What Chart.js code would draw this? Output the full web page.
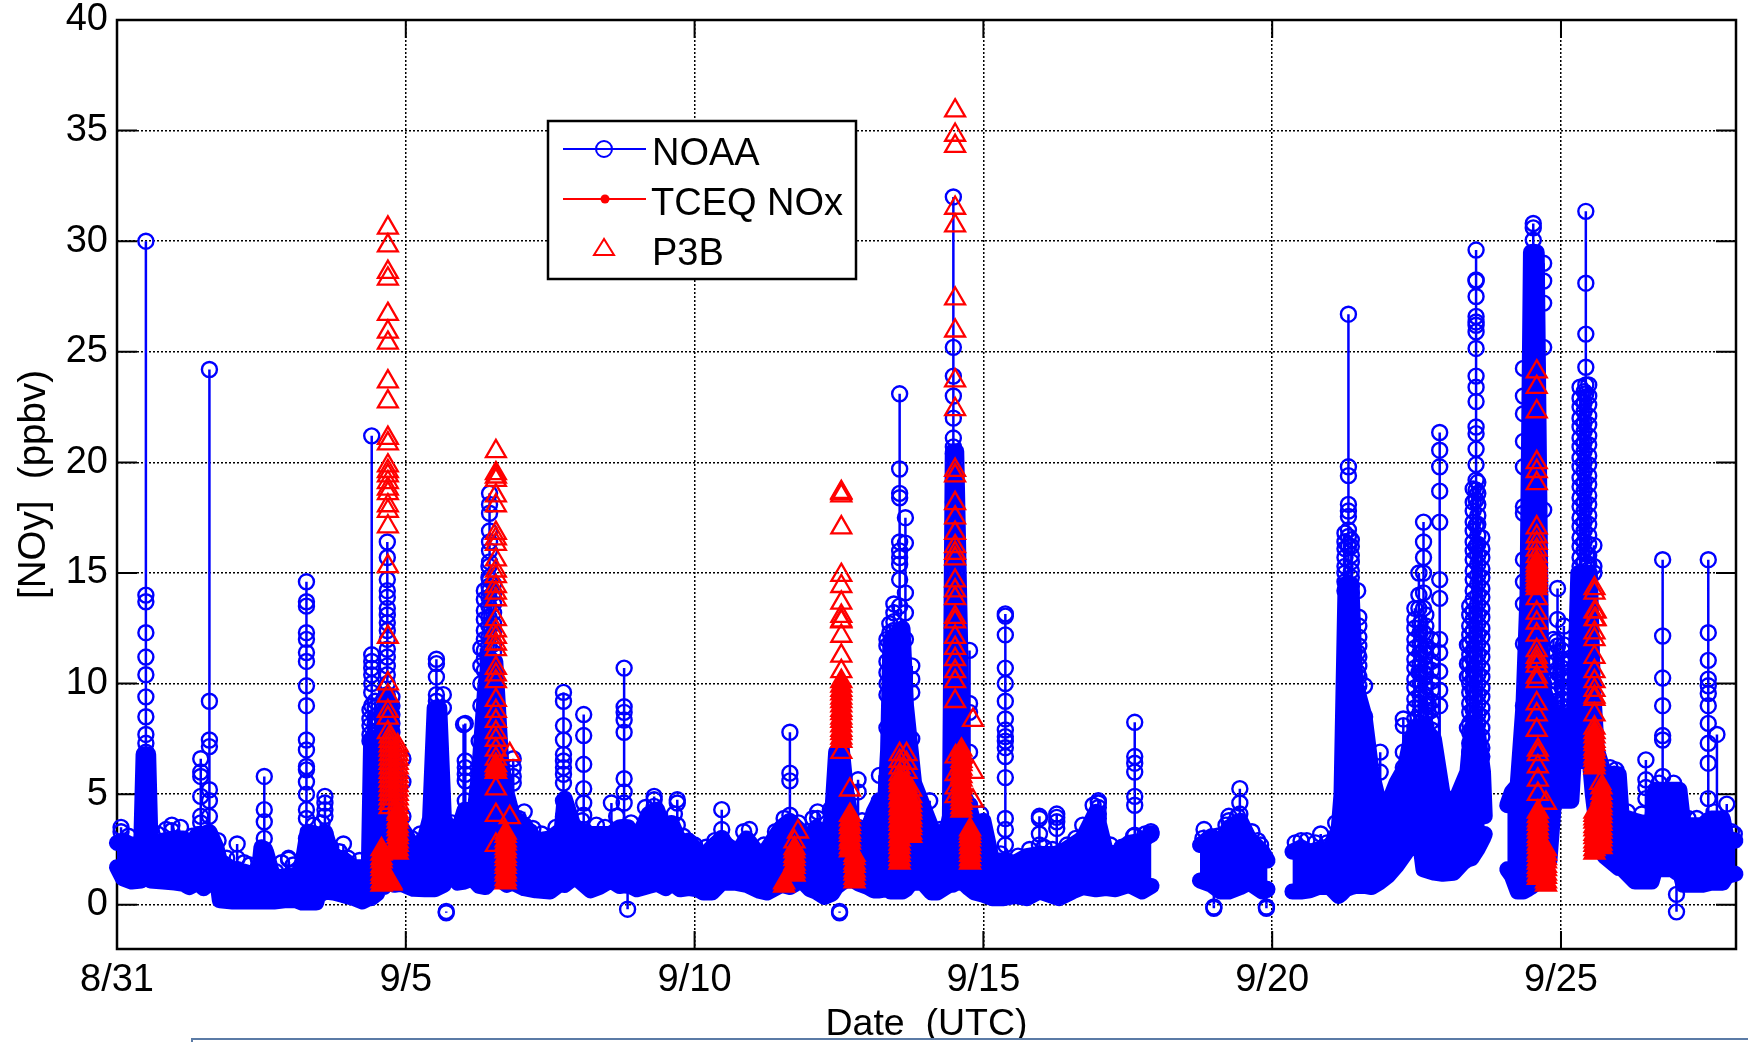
<!DOCTYPE html>
<html><head><meta charset="utf-8">
<script src="https://cdn.jsdelivr.net/npm/chart.js@4"></script>
<style>
html,body{margin:0;padding:0;background:#fff;overflow:hidden;width:1748px;height:1042px}
#c{position:absolute;left:0;top:0}
#strip{position:absolute;left:191px;top:1038px;width:1570px;height:30px;border:2px solid #5b7ba6;background:#fff;box-sizing:border-box}
</style></head><body>
<canvas id="c" width="1748" height="1042"></canvas>
<div id="strip"></div>
<script>
// ---- axis ticks ----
const xTickDays = [0,5,10,15,20,25];
const xTickLabels = ['8/31','9/5','9/10','9/15','9/20','9/25'];
const yTickValues = [0,5,10,15,20,25,30,35,40];
const seriesNames = ['NOAA','TCEQ NOx','P3B'];

// ---- NOAA dense core: lower and upper reach of the record (day since 8/31, ppbv) ----
const bandDays = [0,.1,.25,.42,.46,.54,.58,.8,1,1.15,1.25,1.4,1.5,1.6,1.72,1.78,2,2.2,2.45,2.5,2.58,2.72,2.9,3.1,3.2,3.3,3.45,3.48,3.6,3.75,3.9,4.1,4.25,4.36,4.4,4.5,4.55,4.62,4.66,4.74,4.8,4.92,5,5.13,5.33,5.42,5.5,5.58,5.66,5.72,5.82,5.9,6.02,6.15,6.27,6.38,6.45,6.55,6.65,6.75,6.85,7.05,7.25,7.5,7.7,7.75,7.9,8,8.2,8.35,8.55,8.7,8.85,9,9.2,9.35,9.5,9.6,9.75,9.9,10.05,10.15,10.3,10.47,10.7,10.9,11.1,11.25,11.5,11.65,11.85,12,12.1,12.25,12.38,12.45,12.55,12.62,12.75,12.85,13,13.1,13.2,13.3,13.35,13.39,13.6,13.66,13.72,13.8,13.95,14.1,14.2,14.35,14.42,14.47,14.53,14.65,14.75,14.85,15,15.15,15.35,15.55,15.75,15.97,16.31,16.54,16.72,16.95,17.12,17.29,17.52,17.75,17.91,18.3,18.75,18.95,19.1,19.25,19.45,19.6,19.83,19.92,20.1,20.35,20.5,20.65,20.8,21,21.15,21.2,21.27,21.37,21.44,21.6,21.72,21.85,22,22.15,22.3,22.4,22.5,22.55,22.62,22.8,22.95,23.14,23.3,23.38,23.45,23.55,23.65,23.68,23.9,24.07,24.15,24.25,24.35,24.42,24.48,24.58,24.66,24.8,24.88,25.18,25.22,25.3,25.5,25.55,25.62,25.75,26,26.05,26.28,26.57,26.63,27.05,27.12,27.44,27.6,27.8,27.87,28.02];
const bandLow = [1.7,1.2,1.05,1.1,1.2,1.2,1.1,1.05,1,.95,.8,1,.75,1,1.4,.2,.15,.15,.15,.15,.15,.15,.2,.2,.1,.1,.1,.4,.6,.55,.45,.3,.15,.3,.3,.5,.8,.8,1,1,.9,.95,.86,.72,.7,.7,.7,.8,.9,1.45,1.45,1,1.05,1.2,.85,.8,1,1.2,1.1,.9,1,.75,.65,.6,1,.9,1.2,1.1,.65,.8,1.1,.85,.9,.7,.85,.95,.75,1,.7,.75,.7,.55,.55,1,1,.9,.65,.55,.9,.8,1.1,.7,.6,.35,.5,.8,1,1.1,1.1,.95,.8,.65,.65,.7,.7,.6,.6,.7,.9,1,1,.55,.55,.8,.9,.9,1,1,.75,.55,.45,.3,.3,.4,.3,.6,.3,.6,.8,.7,.75,.7,.9,.6,.85,null,1.1,.9,.6,.6,.8,1,.6,.7,null,.6,.6,.65,.8,.8,.4,.5,.7,.8,.85,.85,.8,1,1.3,1.75,2.3,2.7,2.8,3,1.6,1.45,1.4,1.45,1.9,2.05,2.1,2.5,3,3.2,null,1.6,1.3,.6,.6,.7,.8,1,1.2,2,4.7,4.7,6.5,6.5,6.5,5,3.5,2.2,1.66,1.66,1.05,1.05,1.6,1.6,.9,.9,1,1,1.3,1.4];
const bandHigh = [2.8,2.9,2.7,2.8,6.8,6.8,2.8,2.9,3,3,2.6,3.2,3.2,3.3,2.6,2,1.6,1.5,1.3,2.6,2.4,1.1,1.2,1.3,1.7,3.3,3.2,3.1,3.3,2,2.1,1.7,1.7,1.7,7.5,7.5,5,5,9.5,9,4.5,3.5,3.2,2.55,3,3.9,8.9,8.9,3.9,3.6,3.4,3.3,4.3,3.2,6,10,11,11,6.5,5,4,3.6,2.9,3,3.4,4.8,3.6,3.4,3.2,3.2,3.2,3.5,3.5,2.9,4.1,4.3,3.2,3.7,2.8,2.9,2.4,2.2,2.6,3,2.2,3,2.3,2.5,3.5,3.8,3.3,3,3.5,2.7,4,6.9,7,5.2,3.3,3.5,3.3,4.2,4.7,4.7,7,12,12.5,9,7.5,5.5,4.5,3.5,3.1,3.1,4,20.5,20.5,5,4.5,3.5,3.8,2,2,1.9,2.2,2.3,2.3,2.7,3,4.2,2.4,2.3,2.8,2.9,3.2,null,2.7,3.1,2.8,3.5,3.8,3,2.4,2,null,2.4,2.6,2.4,2.5,2.5,3.4,5,14.5,14.5,10,8.5,6,4.6,4.5,5.5,6.2,7.5,8,8,8,7.5,5,4.5,5.5,6,8,8,6,4,null,4.5,5.1,5.4,9,14,29.5,29.5,10,9,8.5,8.5,8,15,15,10,7,5.9,5.9,4,3.8,3.6,5.2,5.2,3.6,3.6,3.9,3.9,3,2.9];

// ---- NOAA spikes: each day holds a stack of readings joined by a stem ----
const noaaSpikeDays = [.07,.5,.95,1.45,1.6,2.08,2.55,2.97,3.28,3.6,3.92,4.41,4.68,4.95,5.53,5.65,5.7,6.03,6.0,6.27,6.45,6.3,6.86,7.05,7.2,7.73,8.08,8.56,8.78,8.84,9.3,9.7,10.47,11.65,12.13,12.51,12.83,13.2,13.33,13.55,13.65,13.76,14.07,14.48,14.76,15.38,15.97,16.27,16.72,16.99,17.62,17.9,18.82,18.99,19.25,19.44,19.8,19.9,20.5,20.84,21.32,21.48,21.6,21.87,22.27,22.54,22.62,22.7,22.9,23.38,23.5,23.53,24.35,24.52,24.7,24.87,24.94,25.05,25.43,25.57,25.92,26.47,26.76,27,27.55,27.7,27.87];
const noaaSpikeValues = [
[3.5,3.3,2.8],
[30,14,13.7,12.3,11.2,10.4,9.4,8.5,7.7,7.3,6.9,3],
[3.6,3.35,2.9],
[6.6,6,5.8,4.9,4,3.7,3],
[24.2,9.2,7.45,7.15,5.2,4.7,4,3],
[2.75,2.1,1.6],
[5.8,4.3,3.75,3,2.5],
[2.1,2.05,1.3],
[14.6,13.7,13.5,12.3,12,11.4,11,9.9,9,7.45,7,6.25,6.1,5.55,5,4.3,3.9,3],
[4.9,4.6,4.3,4,3.2],
[2.75,2],
[21.2,11.3,11,10.7,10.4,10,9.6,9,7.5],
[16.4,15.7,14.7,14.2,13.9,13.4,13.1,12.75,12.4,12,11.55,11.2,10.8,10.4,10,9.5],
[6.6,5.56,4,3.3],
[11.1,10.9,10.3,9.5,9.2,8.9],
[9.5,8.9],
[-.3,-.36],
[8.2,6.5,6.2,5.9,5.6,4.7,4.2],
[8.15,3.3],
[7.4,6],
[18.6,18.1,17.7,16.9,16.4,16,15.5,14.7,14.2,11],
[11.6,10.8,10,9],
[6.6,6.2,5.8,5.5,4],
[4.2,3.6],
[3.45,2.9],
[9.6,9.2,8.1,7.45,6.8,6.5,6.2,5.9,5.5,4.7,4],
[8.6,7.65,6.35,5.25,4.6,4.05,3.4],
[4.6,3.2],
[10.7,8.95,8.7,8.35,7.8,5.7,5.1,4.6,3.5],
[-.2,.9],
[4.9,4.75,4.45,4.2],
[4.75,4.6,3.6],
[4.3,3.4,3],
[7.8,5.95,5.6,4.05,3.5],
[4.2,3.9,3.4],
[-.3,-.36],
[5.65,5.1,3.5],
[5.85,4.7],
[12,11.7,11,10.5,10,9.5,8],
[23.1,19.7,18.6,18.4,16.4,16,15.7,15.4,14.7,13.5],
[17.5,16.35,14.1,13.2,12],
[10.8,10.2,9.6,7.5],
[4.7,3.5],
[32,25.2,23.9,23,22,21.1,20.7,20.4,18.2,17.3,16],
[11.5,9.1,8.7,6.9,4.5],
[13.15,13.05,12.2,10.7,10,9.2,8.4,7.9,7.6,7.4,7.1,6.7,5.75,3.9,3.4,2.7,2],
[4,3.9,3.2,2.7,2.3],
[4.1,3.95,3.75,3.45,2.3],
[3.6,3],
[4.7,4.6,4.4,4.1,3.9],
[8.25,6.7,6.4,6,4.9,4.5,3.15,2.6],
[3.3,3.2],
[3.4,2.7],
[-.1,-.16,.9],
[4,3.8,3.4],
[5.25,4.6,4.1,3.7],
[2.7,2.4],
[-.1,-.16,.7],
[2.9,2.5],
[3.2,2.5],
[26.7,19.8,19.4,18.1,17.8,17.55,16.95,16.65,16.2,14.5],
[14.2,11.4,10.5,9.5],
[9.9,8.5],
[6.9,6,4.6],
[8.4,8.1,6.9,6.2],
[15,14,13.4,10.5,8],
[17.3,16.4,15.7,15,14.1,13.4,12.3,11.5,10.5,8],
[9.1,8.7,6],
[21.35,20.55,19.8,18.7,17.3,14.7,13.85,12,11.4,10.55,9.7,9,5],
[11.75,10.9,10.3,8],
[8.2,7.4,6.4,5.6,4.5],
[29.6,28.25,28.2,27.5,26.6,26.35,26.2,25.9,25.15,23.9,23.4,22.75,21.6,21.3,20.6,19.9,19.2,18.75,18.3,17.15,16.2,8],
[24.25,23,22.2,20.95,19.8,18,17.7,15.6,14.6,13.6,11.8,9],
[30.8,30.6,30.05,29.5],
[29,28.2,27.2,25.2,17.85,10],
[12,10.15],
[14.3,12.9,11.7,10.5,8.5],
[12.6,11.75,10.9,8.5],
[31.35,28.1,25.8,24.3,23.5,23.1,12],
[16.25,15.3,15,10],
[5.9,5.5],
[6.55,5.65,5.3,4.8,3.7],
[15.6,12.15,10.25,9,7.65,7.45,5.8,5],
[.47,-.32,1.5],
[15.6,12.3,11.05,10.2,9.9,9.55,9,8.2,7.3,6.4,4.8,3.8],
[7.7,3.8],
[4.55,3]
];

// ---- NOAA readings packed inside the tall columns ----
const noaaPackDays = [4.38,4.47,4.62,4.76,6.36,6.44,6.52,13.38,13.45,21.26,21.37,21.5,22.47,22.56,22.66,22.76,23.42,23.48,23.56,23.63,24.92,25.02,25.12,25.33,25.4,25.48];
const noaaPackValues = [
[8.8,8.4,8.1,7.7,7.4],
[9.2,8.9,8.5,8.2,7.8,7.5],
[9.3,8.9,8.5,8.1,7.8,7.4,7],
[9.4,9,8.6,8.2,7.8],
[14.2,13.8,13.3,12.9,12.4,12,11.5,11.1,10.6],
[15.3,14.8,14.4,13.9,13.5,13,12.6,12.1,11.7,11.2],
[14.5,14.1,13.6,13.2,12.7,12.3,11.8,11.4,10.9],
[12.7,12.3],
[13.6,13.2,12.8,12.4],
[16.8,16.4,16.1,15.7,15.3,15,14.6,14.2],
[16.5,16.2,15.8,15.5,15.1,14.8,14.4,14.1],
[13,12.6,12.1,11.7,11.2,10.8,10.3,9.9],
[13.4,12.9,12.5,12,11.6,11.1,10.7,10.2,9.8,9.3,8.9,8.4,8],
[12.7,12.3,11.8,11.4,10.9,10.5,10,9.5,9.1,8.7,8.2],
[13.1,12.6,12.2,11.7,11.3,10.8,10.4,9.9,9.4,9,8.6,8.1],
[12,11.5,11,10.6,10.1,9.7,9.2,8.8,8.3,7.9],
[13.5,13.1,12.6,12.2,11.8,11.3,10.9,10.4,10,9.6,9.1,8.7,8.2,7.8,7.3,6.9,6.4],
[18.8,18.2,17.8,17.3,16.9,16.4,16,15.6,15.1,14.7,14.2,13.8,13.3,12.9,12.4,12,11.5,11.1,10.6,10.2,9.7,9.3,8.8,8.4],
[19.1,18.6,18.1,17.6,17.2,16.7,16.3,15.8,15.4,14.9,14.5,14,13.6,13.1,12.7,12.2,11.8,11.3,10.9,10.4,10,9.5,9.1,8.6,8.2],
[16.6,16.1,15.7,15.2,14.8,14.3,13.9,13.4,13,12.5,12.1,11.6,11.2,10.7,10.3,9.8,9.4,8.9,8.5,8,7.6,7.1,6.7],
[11.9,11.4,11,10.6,10.1,9.7,9.2,8.8],
[11.5,11.1,10.7,10.2,9.8,9.3,8.9],
[11,10.5,10.1,9.6,9.2,8.7],
[23.4,22.9,22.5,22,21.6,21.1,20.7,20.2,19.8,19.3,18.9,18.4,18,17.5,17.1,16.6,16.2,15.7,15.3],
[23.2,22.7,22.3,21.8,21.4,20.9,20.5,20,19.6,19.1,18.7,18.2,17.8,17.3,16.9,16.4,16,15.5],
[23.5,23,22.6,22.1,21.7,21.2,20.8,20.3,19.9,19.4,19,18.5,18.1,17.6,17.2,16.7,16.3,15.8,15.4]
];

// ---- NOAA readings scattered just above the dense core ----
const noaaFringeDays = [.2,.7,.85,1.1,1.3,1.75,1.9,2.2,2.3,2.75,2.85,3.05,3.4,3.55,3.7,3.85,4,4.2,4.85,5.1,5.25,5.8,6.15,6.95,7.15,7.35,7.6,8.05,8.3,8.45,8.65,8.9,9.05,9.15,9.45,9.65,9.8,10,10.2,10.35,10.6,10.85,10.95,11.2,11.4,11.55,11.8,11.95,12.05,12.2,12.35,12.9,13.05,14,14.25,14.35,14.95,15.1,15.3,15.6,15.8,16.05,16.2,16.45,16.6,16.8,16.9,17.2,17.4,17.6,17.8,18.8,19.05,19.2,19.4,19.65,19.75,20.4,20.6,20.75,20.95,21.1,25.85,25.95,26.15,26.4,26.7,26.95,27.2,27.35,27.65,27.95,28];
const noaaFringeValues = [3.1,3.2,3.4,3.5,3.1,2.9,2.1,1.9,1.8,1.5,1.9,1.8,3.6,3.7,2.6,2.4,2.1,2,3.9,3,3.2,3.7,3.5,3.9,3.3,3.2,3.5,3.8,3.6,3.5,4,3.7,3.3,4.4,3.6,4.1,3.1,2.7,2.6,2.9,2.6,3.3,3.4,2.7,3.3,3.9,3.7,3.3,3.9,3,4.3,3.8,3.7,4,3.4,3.4,4.1,2.4,2.3,2.2,2.5,2.6,2.5,2.7,3,3.3,4.5,2.7,2.6,3.1,3.2,3,3.1,3.6,4,3.3,2.9,2.8,2.9,2.8,2.8,3.7,6.2,6.1,4.2,4.1,5.5,5.5,3.9,3.9,4.2,3.3,3.2];

// ---- TCEQ NOx: listed in the key, no readings visible above the other series ----
const tceqDays = [];
const tceqValues = [];

// ---- P3B open triangles ----
const p3bDays = [4.69,4.72,4.86,6.56,6.8,11.73,11.79,12.54,12.69,13.55,13.67,13.75,14.51,14.52,14.82,24.58,24.6,24.74,25.58,25.68,25.6];
const p3bValues = [
[30.6,29.8,28.6,28.3,26.7,25.9,25.4,23.65,22.75,21.1,20.85,19.85,19.6,19.4,19.1,18.8,18.6,18.05,17.8,17.1,15.3,12.1,10,9.45,8.75,8.45,7.8],
[7.6,7.4,7.2,7,6.8,6.6,6.4,6.2,6,5.8,5.6,5.4,5.2,5,4.8,4.6,4.4],
[7.2,7,6.8,6.6,6.4,6.2,6,5.8,5.6,5.4,5.2,5,4.8,4.6,4.4,4.2],
[20.5,19.5,19.35,19.2,18.5,18.05,16.8,16.55,16.3,15.6,15.1,14.85,14.4,14.1,13.8,12.9,12.4,12.1,11.8,11.55,10.7,10.4,10.1,9.25,8.75,8.3,7.8,7.45,7,6.6,6.3,6,5.25,4.05,2.7],
[6.8,3.95],
[2.85],
[3.3],
[18.65,18.6,18.5,17.05,14.9,14.4,13.65,13.05,12.85,12.8,12.15,11.25,10.55,6.9],
[5.2],
[6.8,6.5,6.2,5.9],
[6.8,6.4,6],
[5.2,4.9],
[35.9,34.8,34.3,31.5,30.7,27.4,25.95,23.7,22.4,19.65,19.4,18.15,17.5,16.8,16.2,15.9,15.65,14.65,14.2,13.85,13,12.8,12.1,11.6,11.1,10.55,10.1,9.2],
[6.7,5.9,5.3,4.9],
[8.35,6,4.7],
[24.1,23.4,22.3,20,19.6,19.05,17.05,16.65,16.35,16.05,15.75,13.85,13.2,12.75,12.2,11.5,11.2,11,10.8,10.3,10.1,9.1,8.6,7.9],
[7,6.8,6.25,5.65,5],
[4.6],
[14.3,14.1,13.25,12.9,12.3,12,11.2,10.55,10.1,9.7,9.4,9.3,8.6,8],
[5.5],
[13.25,12.9]
];

// ---- P3B stacks so dense that they merge into solid red ----
const p3bDenseDays = [4.58,4.75,4.86,6.56,6.73,11.55,11.73,12.54,12.69,12.77,13.55,13.67,13.75,14.62,14.77,24.58,24.6,24.74,25.58,25.7];
const p3bDenseValues = [
[.9,1.05,1.25,1.4,1.6,1.75,1.95,2.1,2.3,2.5],
[1,.95],
[2.35,2.5,2.7,2.85,3.05,3.2,3.4,3.55,3.75,3.9,4.1],
[6,6.15,6.3],
[1,1.15,1.35,1.5,1.7,1.85,2.05,2.2,2.4,2.55,2.75,2.9,3.1,3.25],
[.85,1],
[1.35,1.5,1.7,1.85,2.05,2.2,2.4,2.55],
[7.4,7.55,7.75,7.9,8.1,8.3,8.45,8.65,8.8,9,9.2,9.35,9.55,9.7,9.9,10.1],
[2.45,2.6,2.8,2.95,3.15,3.3,3.5,3.65,3.85,4.05],
[1.05,1.2,1.4,1.55,1.75,1.9,2.1,2.25],
[1.9,2.05,2.25,2.4,2.6,2.75,2.95,3.1,3.3,3.45,3.65,3.8,4,4.15,4.35,4.5,4.7,4.85,5.05,5.2,5.4,5.55,5.7],
[3.1,3.25,3.45,3.6,3.8,3.95,4.15,4.3,4.5,4.65,4.85,5,5.2,5.35,5.5],
[3.1,3.25,3.45,3.6,3.8,3.95,4.15,4.3,4.5,4.7],
[4.25,4.4,4.6,4.75,4.95,5.1,5.3,5.45,5.65,5.8,6,6.15,6.35,6.5,6.7,6.85,7],
[1.9,2.05,2.25,2.4,2.6,2.75,2.95,3.1,3.25,3.4],
[15.5,15.35,15.2,15.05,14.9,14.75,14.6,14.45,14.3],
[1.2,1.35,1.55,1.7,1.9,2.05,2.25,2.4,2.6,2.75,2.95,3.1,3.3,3.45,3.65,3.8,4,4.2],
[.9,1.05,1.25,1.4,1.6,1.75,1.95,2.1,2.3,2.5],
[2.35,2.5,2.7,2.85,3.05,3.2,3.4,3.55,3.75,3.9,4.05,4.2,6.2,6.35,6.55,6.7,6.9,7.05,7.25,7.4,7.6,7.8],
[2.6,2.75,2.95,3.1,3.3,3.45,3.65,3.8,4,4.15,4.35,4.5,4.7,4.85,5.05,5.3]
];

// ---- building the plotted points from the lists above ----
function stacks(days, values){
  const pts = [];
  days.forEach((d,i)=>{
    values[i].forEach(v=>pts.push({x:d,y:v}));
    pts.push({x:d,y:null});
  });
  return pts;
}
const toPts = (days,vals)=>days.map((d,i)=>({x:d,y:vals[i]}));

const BLUE='#0000ff', RED='#ff0000', FONT='"Liberation Sans", Arial, sans-serif';

const boxPlugin = {
  id:'box',
  beforeDatasetsDraw(chart){
    const {ctx,chartArea:a,scales:{x,y}} = chart;
    ctx.save();
    ctx.strokeStyle='#000'; ctx.lineWidth=2;
    ctx.beginPath();
    xTickDays.forEach(d=>{const p=x.getPixelForValue(d);
      ctx.moveTo(p,a.bottom);ctx.lineTo(p,a.bottom-18);
      ctx.moveTo(p,a.top);ctx.lineTo(p,a.top+18);});
    yTickValues.forEach(v=>{const p=y.getPixelForValue(v);
      ctx.moveTo(a.left,p);ctx.lineTo(a.left+20,p);
      ctx.moveTo(a.right,p);ctx.lineTo(a.right-20,p);});
    ctx.stroke();
    ctx.lineWidth=2.5;
    ctx.strokeRect(a.left,a.top,a.right-a.left,a.bottom-a.top);
    ctx.restore();
  },
  afterDatasetsDraw(chart){
    const {ctx} = chart;
    const L=548,T=121,R=856,B=279;
    ctx.save();
    ctx.fillStyle='#fff';ctx.fillRect(L,T,R-L,B-T);
    ctx.strokeStyle='#000';ctx.lineWidth=2.5;ctx.strokeRect(L,T,R-L,B-T);
    const rows=[149,199,248];
    ctx.lineWidth=2;
    ctx.strokeStyle=BLUE;
    ctx.beginPath();ctx.moveTo(563,rows[0]);ctx.lineTo(646,rows[0]);ctx.stroke();
    ctx.beginPath();ctx.arc(604,rows[0],8,0,Math.PI*2);ctx.stroke();
    ctx.strokeStyle=RED;ctx.fillStyle=RED;
    ctx.beginPath();ctx.moveTo(563,rows[1]);ctx.lineTo(646,rows[1]);ctx.stroke();
    ctx.beginPath();ctx.arc(605,rows[1],4.5,0,Math.PI*2);ctx.fill();
    ctx.beginPath();ctx.moveTo(604,239);ctx.lineTo(594,255);ctx.lineTo(614,255);ctx.closePath();ctx.stroke();
    ctx.fillStyle='#000';ctx.font='38px '+FONT;ctx.textAlign='left';ctx.textBaseline='alphabetic';
    ctx.fillText(seriesNames[0],652,165);
    ctx.fillText(seriesNames[1],651,215);
    ctx.fillText(seriesNames[2],652,265);
    ctx.restore();
  }
};

const ringStyle = {borderColor:BLUE,pointRadius:7.5,pointBorderWidth:2.4,pointBorderColor:BLUE,pointBackgroundColor:'rgba(0,0,0,0)',clip:false};

new Chart(document.getElementById('c'),{
  type:'line',
  plugins:[boxPlugin],
  data:{datasets:[
    {label:'P3B',data:stacks(p3bDays,p3bValues),showLine:false,pointStyle:'triangle',pointRadius:11.5,pointBorderWidth:2.3,
      pointBorderColor:RED,pointBackgroundColor:'rgba(0,0,0,0)',borderColor:RED,clip:false,order:1},
    {label:'P3B dense',data:stacks(p3bDenseDays,p3bDenseValues),showLine:false,pointStyle:'triangle',pointRadius:11.5,pointBorderWidth:2.3,
      pointBorderColor:RED,pointBackgroundColor:RED,borderColor:RED,clip:false,order:2},
    {label:'TCEQ NOx',data:toPts(tceqDays,tceqValues),borderColor:RED,borderWidth:2,pointRadius:4,pointBackgroundColor:RED,clip:false,order:3},
    {label:'NOAA',data:stacks(noaaSpikeDays,noaaSpikeValues),borderWidth:2.5,spanGaps:false,...ringStyle,order:4},
    {label:'NOAA packed',data:stacks(noaaPackDays,noaaPackValues),borderWidth:2.5,spanGaps:false,...ringStyle,order:4.2},
    {label:'NOAA fringe',data:toPts(noaaFringeDays,noaaFringeValues),showLine:false,...ringStyle,order:4.4},
    {label:'NOAA upper',data:toPts(bandDays,bandHigh),borderColor:BLUE,borderWidth:16,borderJoinStyle:'round',borderCapStyle:'round',
      backgroundColor:BLUE,fill:'+1',pointRadius:0,spanGaps:false,tension:0,clip:false,order:5},
    {label:'NOAA lower',data:toPts(bandDays,bandLow),borderColor:BLUE,borderWidth:16,borderJoinStyle:'round',borderCapStyle:'round',
      pointRadius:0,spanGaps:false,tension:0,fill:false,clip:false,order:6}
  ]},
  options:{
    responsive:false,animation:false,
    layout:{autoPadding:false,padding:{top:20,right:12,left:0,bottom:0}},
    plugins:{legend:{display:false},tooltip:{enabled:false},title:{display:false}},
    elements:{line:{tension:0}},
    scales:{
      x:{type:'linear',min:0,max:28.03,
        afterBuildTicks(s){s.ticks=xTickDays.map(v=>({value:v}));},
        afterFit(s){s.height=93;s.paddingLeft=0;s.paddingRight=0;},
        ticks:{font:{family:FONT,size:38},color:'#000',padding:9,maxRotation:0,autoSkip:false,
          callback(v){const i=xTickDays.indexOf(v);return i<0?'':xTickLabels[i];}},
        grid:{color:'#000',lineWidth:1.5,drawTicks:false},
        border:{display:false,dash:[2,2]},
        title:{display:true,text:'Date  (UTC)',color:'#000',font:{family:FONT,size:37.5},padding:{top:0,bottom:-5}}
      },
      y:{type:'linear',min:-2,max:40,
        afterBuildTicks(s){s.ticks=yTickValues.map(v=>({value:v}));},
        afterFit(s){s.width=117;s.paddingTop=0;s.paddingBottom=0;},
        ticks:{font:{family:FONT,size:38},color:'#000',padding:9,autoSkip:false},
        grid:{color:'#000',lineWidth:1.5,drawTicks:false},
        border:{display:false,dash:[2,2]},
        title:{display:true,text:'[NOy]  (ppbv)',color:'#000',font:{family:FONT,size:38.5},padding:{top:11,bottom:0}}
      }
    }
  }
});
</script>
</body></html>
